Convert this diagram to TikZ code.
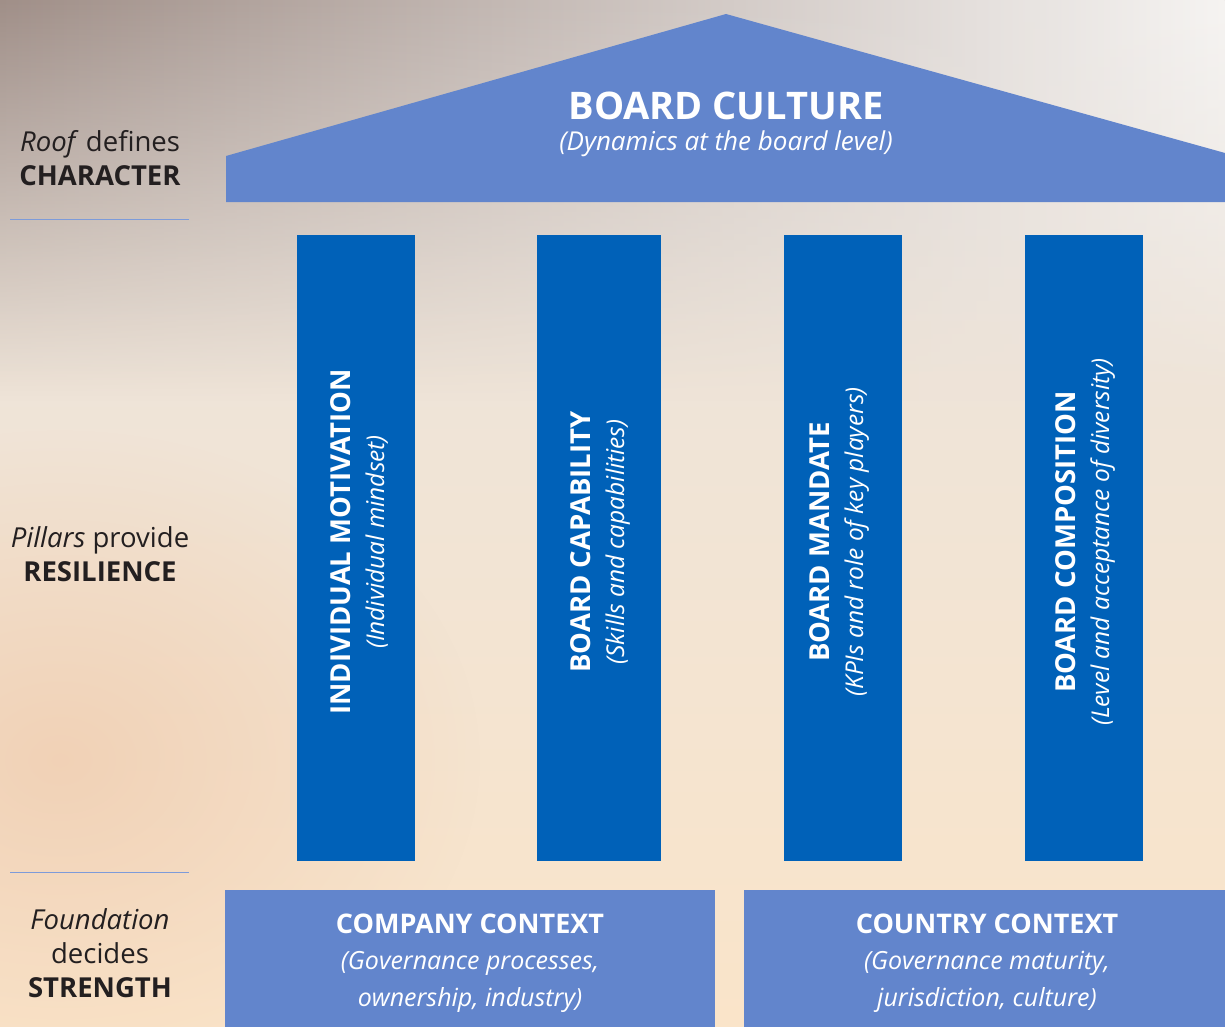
\documentclass[tikz,border=0pt]{standalone}
\usepackage{fontspec}
\setmainfont{Open Sans}
\usetikzlibrary{positioning}
\usetikzlibrary{fadings}

\definecolor{roofblue}{HTML}{6285CC}
\definecolor{pillarblue}{HTML}{0061B8}
\definecolor{ruleblue}{HTML}{7D9BD9}
\definecolor{labelink}{HTML}{231F20}
\definecolor{skytop}{HTML}{E8E4E1}
\definecolor{skymid}{HTML}{F2EEEA}
\definecolor{skylow}{HTML}{FAE4C9}
\definecolor{skydark}{HTML}{A08F88}
\definecolor{skylight}{HTML}{F6F4F2}
\definecolor{skywarm}{HTML}{F0CDB0}

\tikzfading[name=softglow, inner color=transparent!0, outer color=transparent!100]

\begin{document}
\begin{tikzpicture}[x=1pt,y=-1pt,
    sidelabel/.style={text=labelink, align=center, font=\fontsize{27.5}{34}\selectfont},
    pillar/.style={fill=pillarblue, minimum width=118pt, minimum height=626pt, inner sep=0pt},
    pillartext/.style={text=white, rotate=90, align=center, font=\fontsize{24.5}{34}\selectfont},
    footing/.style={fill=roofblue, minimum height=137pt, inner sep=0pt, text=white,
        align=center, font=\fontsize{25}{36.5}\selectfont}]
    \useasboundingbox (0,0) rectangle (1225,1027);

    % Sky behind the house
    \shade[top color=skytop, middle color=skymid, bottom color=skylow] (0,0) rectangle (1225,1027);
    \fill[skywarm, path fading=softglow, opacity=0.8] (60,760) ellipse (420 and 330);
    \shade[left color=skydark, right color=skylight, path fading=south] (0,0) rectangle (1225,400);

    % Roof
    \fill[roofblue] (226,202) -- (226,156) -- (726,14) -- (1225,153) -- (1225,202) -- cycle;
    \node[text=white, font=\fontsize{38}{40}\selectfont\bfseries] (culture) at (726,106) {BOARD CULTURE};
    \node[text=white, font=\fontsize{26}{28}\selectfont\itshape, below=4pt of culture] (dynamics) {(Dynamics at the board level)};

    % Pillars
    \node[pillar] (motivation) at (356,548) {};
    \node[pillar, minimum width=124pt] (capability) at (599,548) {};
    \node[pillar] (mandate) at (843,548) {};
    \node[pillar] (composition) at (1084,548) {};

    \node[pillartext] (motivationtext) at (359,542) {{\fontsize{27.5}{34}\selectfont\bfseries INDIVIDUAL MOTIVATION}\\\textit{(Individual mindset)}};
    \node[pillartext] (capabilitytext) at (600,542) {{\fontsize{27.5}{34}\selectfont\bfseries BOARD CAPABILITY}\\\textit{(Skills and capabilities)}};
    \node[pillartext] (mandatetext) at (839,542) {{\fontsize{27.5}{34}\selectfont\bfseries BOARD MANDATE}\\\textit{(KPIs and role of key players)}};
    \node[pillartext] (compositiontext) at (1085,542) {{\fontsize{27.5}{34}\selectfont\bfseries BOARD COMPOSITION}\\\textit{(Level and acceptance of diversity)}};

    % Foundation
    \node[footing, minimum width=490pt] (company) at (470,958.5) {};
    \node[footing, minimum width=481pt] (country) at (984.5,958.5) {};
    \node[footing, fill=none, minimum height=0pt] (companytext) at (470,963) {{\fontsize{27}{36.5}\selectfont\bfseries COMPANY CONTEXT}\\\textit{(Governance processes,}\\\textit{ownership, industry)}};
    \node[footing, fill=none, minimum height=0pt] (countrytext) at (987,963) {{\fontsize{27}{36.5}\selectfont\bfseries COUNTRY CONTEXT}\\\textit{(Governance maturity,}\\\textit{jurisdiction, culture)}};

    % Side labels
    \node[sidelabel] (roof) at (100,158) {\textit{Roof} defines\\\textbf{CHARACTER}};
    \node[sidelabel] (pillars) at (100,554) {\textit{Pillars} provide\\\textbf{RESILIENCE}};
    \node[sidelabel] (foundation) at (100,953) {\textit{Foundation}\\decides\\\textbf{STRENGTH}};

    % Dividers
    \coordinate (upperleft) at (10,219);
    \coordinate (upperright) at (189,219);
    \coordinate (lowerleft) at (10,872);
    \coordinate (lowerright) at (189,872);
    \draw[ruleblue, line width=1pt] (upperleft) -- (upperright);
    \draw[ruleblue, line width=1pt] (lowerleft) -- (lowerright);
\end{tikzpicture}
\end{document}
